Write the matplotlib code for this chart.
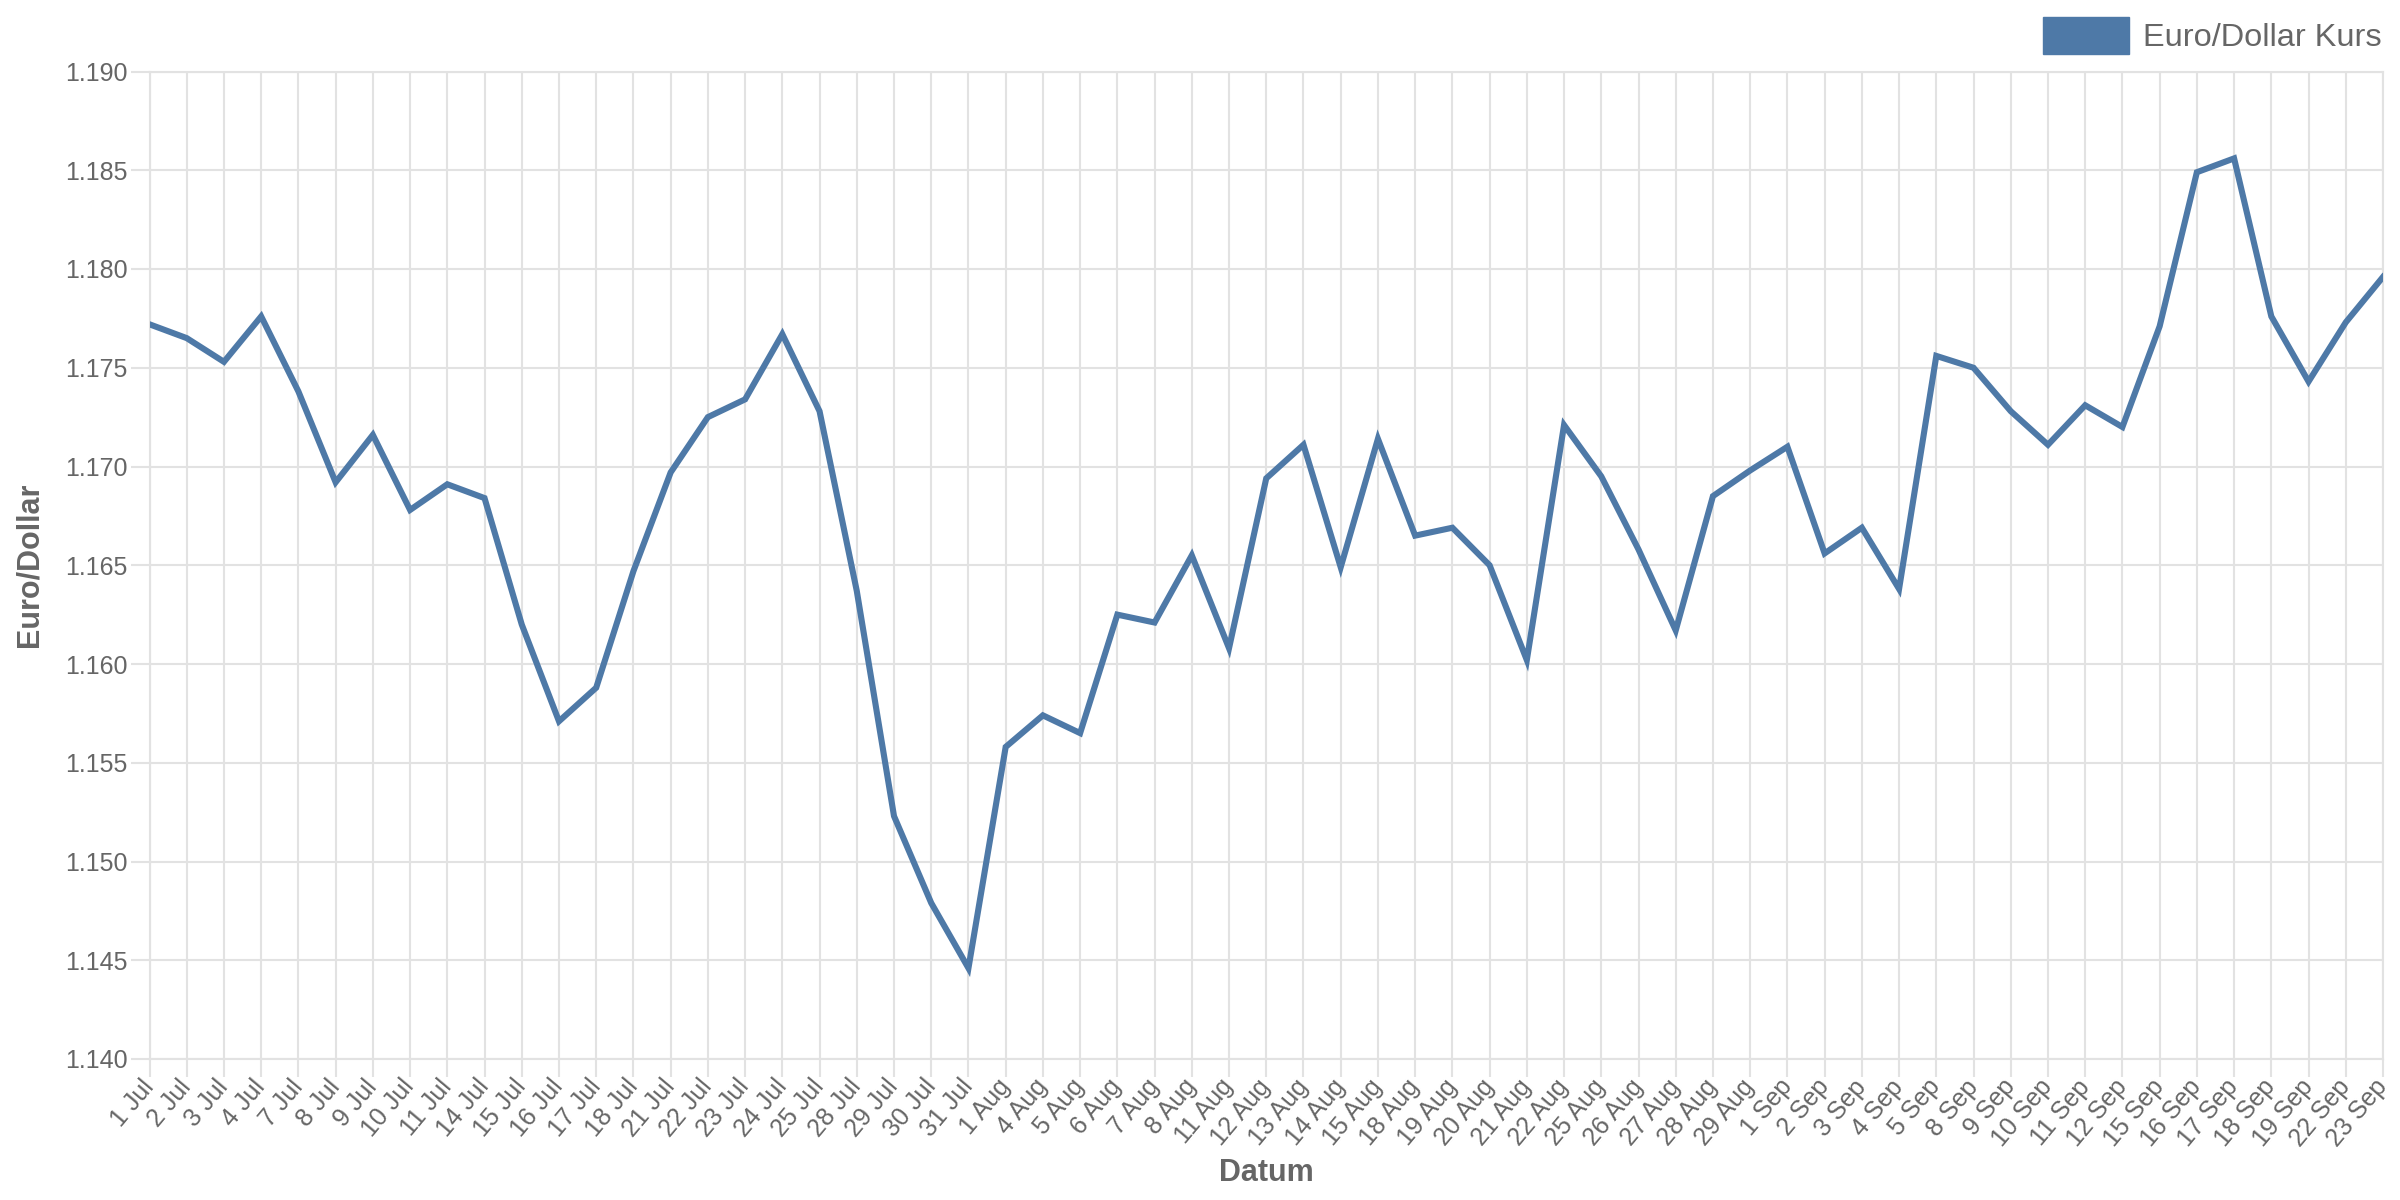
import matplotlib
matplotlib.use("Agg")
import matplotlib.pyplot as plt
from matplotlib.patches import Patch

series_name = "Euro/Dollar Kurs"
x_title = "Datum"
y_title = "Euro/Dollar"

dates = [
    "1 Jul", "2 Jul", "3 Jul", "4 Jul", "7 Jul", "8 Jul", "9 Jul", "10 Jul", "11 Jul",
    "14 Jul", "15 Jul", "16 Jul", "17 Jul", "18 Jul", "21 Jul", "22 Jul", "23 Jul",
    "24 Jul", "25 Jul", "28 Jul", "29 Jul", "30 Jul", "31 Jul",
    "1 Aug", "4 Aug", "5 Aug", "6 Aug", "7 Aug", "8 Aug", "11 Aug", "12 Aug", "13 Aug",
    "14 Aug", "15 Aug", "18 Aug", "19 Aug", "20 Aug", "21 Aug", "22 Aug", "25 Aug",
    "26 Aug", "27 Aug", "28 Aug", "29 Aug",
    "1 Sep", "2 Sep", "3 Sep", "4 Sep", "5 Sep", "8 Sep", "9 Sep", "10 Sep", "11 Sep",
    "12 Sep", "15 Sep", "16 Sep", "17 Sep", "18 Sep", "19 Sep", "22 Sep", "23 Sep",
]

rates = [
    1.1772, 1.1765, 1.1753, 1.1776, 1.1738, 1.1692, 1.1716, 1.1678, 1.1691,
    1.1684, 1.1620, 1.1571, 1.1588, 1.1647, 1.1697, 1.1725, 1.1734,
    1.1767, 1.1728, 1.1637, 1.1523, 1.1479, 1.1446,
    1.1558, 1.1574, 1.1565, 1.1625, 1.1621, 1.1655, 1.1608, 1.1694, 1.1711,
    1.1649, 1.1714, 1.1665, 1.1669, 1.1650, 1.1602, 1.1721, 1.1695,
    1.1658, 1.1617, 1.1685, 1.1698,
    1.1710, 1.1656, 1.1669, 1.1638, 1.1756, 1.1750, 1.1728, 1.1711, 1.1731,
    1.1720, 1.1771, 1.1849, 1.1856, 1.1776, 1.1743, 1.1773, 1.1796,
]

y_ticks = [1.140, 1.145, 1.150, 1.155, 1.160, 1.165, 1.170, 1.175, 1.180, 1.185, 1.190]

LINE = "#4e79a7"
TEXT = "#666666"
GRID = "#e2e2e2"

plt.rcParams["font.family"] = ["Liberation Sans", "DejaVu Sans"]

fig = plt.figure(figsize=(24, 12), dpi=100)
ax = fig.add_axes([149.5 / 2400, 1 - 1059 / 1200, (2383 - 149.5) / 2400, (1059 - 71.5) / 1200])

x = list(range(len(dates)))
ax.plot(x, rates, color=LINE, linewidth=4.4, solid_joinstyle="miter", zorder=3, label=series_name)

ax.set_xlim(0, len(dates) - 1)
ax.set_ylim(y_ticks[0], y_ticks[-1])
ax.set_xticks(x)
ax.set_xticklabels(dates, rotation=50, ha="right", va="center", rotation_mode="anchor")
ax.set_yticks(y_ticks)
ax.set_yticklabels([f"{v:.3f}" for v in y_ticks])

ax.grid(True, color=GRID, linewidth=1.5, zorder=0)
ax.set_axisbelow(True)
for s in ax.spines.values():
    s.set_color(GRID)
    s.set_linewidth(1.5)

ax.tick_params(axis="both", colors=GRID, labelcolor=TEXT, labelsize=18, width=1.5)
ax.tick_params(axis="y", length=14, pad=2)
ax.tick_params(axis="x", length=13, pad=4)

ax.set_ylabel(y_title, fontsize=22, fontweight="bold", color=TEXT)
ax.yaxis.set_label_coords(-0.0468, 0.5)
ax.set_xlabel(x_title, fontsize=22, fontweight="bold", color=TEXT)
ax.xaxis.set_label_coords(0.5, -0.1)

handle = Patch(facecolor=LINE, edgecolor=LINE)
fig.legend([handle], [series_name], loc="upper right",
           bbox_to_anchor=(2382 / 2400, 1 - 17 / 1200), frameon=False,
           fontsize=23.4, labelcolor=TEXT, handlelength=2.65, handleheight=1.38,
           handletextpad=0.43, borderpad=0, borderaxespad=0)

fig.savefig("out.png", dpi=100, facecolor="white")
